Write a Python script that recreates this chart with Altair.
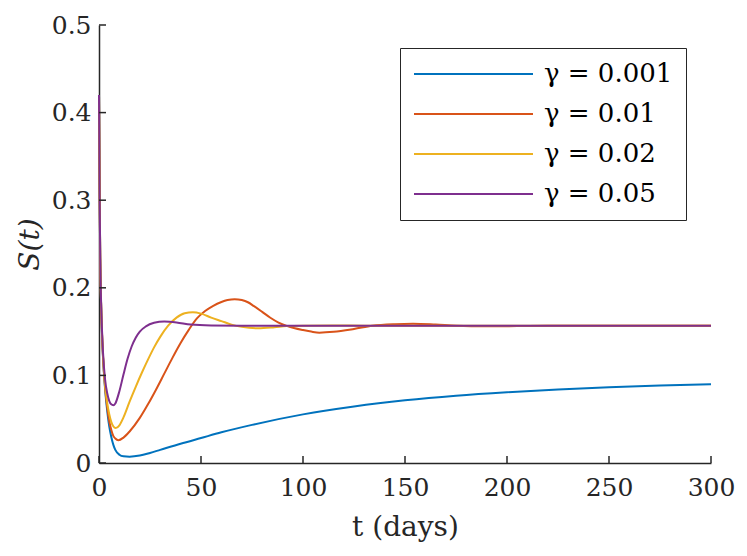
import altair as alt
import pandas as pd

# ---- data ----
labels = ["γ = 0.001", "γ = 0.01", "γ = 0.02", "γ = 0.05"]
colors = ["#0072BD", "#D95319", "#EDB120", "#7E2F8E"]

t_blue = [0, 0.3, 0.6, 1.0, 1.5, 2.0, 3, 4, 5, 6, 7, 8, 10, 12, 15, 20, 25, 30, 40, 50,
          60, 75, 100, 125, 150, 175, 200, 225, 250, 275, 300]
s_blue = [0.42, 0.31, 0.235, 0.183, 0.145, 0.119, 0.084, 0.060, 0.042, 0.030, 0.021, 0.015,
          0.0095, 0.0076, 0.0072, 0.0085, 0.0115, 0.015, 0.022, 0.0285, 0.035, 0.0435,
          0.0555, 0.0645, 0.0715, 0.0768, 0.0808, 0.0840, 0.0865, 0.0884, 0.0898]

t_orange = [0, 0.3, 0.6, 1.0, 1.5, 2.0, 3, 4, 5, 6, 7, 8, 9.5, 12, 15, 20, 24, 28, 32, 36,
            40, 44, 48, 52, 56, 60, 63, 66.5, 70, 73, 76, 80, 84, 88, 92, 96, 100, 104, 108,
            115, 125, 134, 145, 154, 165, 175, 190, 205, 220, 300]
s_orange = [0.42, 0.31, 0.235, 0.184, 0.146, 0.120, 0.086, 0.064, 0.048, 0.038, 0.031, 0.028,
            0.026, 0.029, 0.036, 0.0515, 0.067, 0.084, 0.102, 0.120, 0.137, 0.152, 0.165,
            0.1735, 0.1795, 0.1838, 0.1860, 0.1870, 0.1860, 0.1835, 0.1790, 0.1725, 0.1658,
            0.1603, 0.1565, 0.1538, 0.1518, 0.1500, 0.1488, 0.1497, 0.153, 0.1567, 0.1585,
            0.159, 0.158, 0.1567, 0.156, 0.1563, 0.1567, 0.1567]

t_yellow = [0, 0.3, 0.6, 1.0, 1.5, 2.0, 3, 4, 5, 6, 7, 8.2, 10, 12, 15, 18, 21, 24, 27, 30,
            34, 38, 42, 46, 50, 55, 60, 65, 70, 78, 86, 92, 100, 115, 130, 300]
s_yellow = [0.42, 0.31, 0.235, 0.184, 0.147, 0.121, 0.088, 0.069, 0.056, 0.047, 0.042, 0.040,
            0.043, 0.052, 0.070, 0.087, 0.103, 0.118, 0.132, 0.144, 0.157, 0.166, 0.171,
            0.172, 0.1705, 0.166, 0.162, 0.158, 0.1555, 0.1538, 0.1550, 0.1563, 0.1568,
            0.157, 0.1568, 0.1567]

t_purple = [0, 0.3, 0.6, 1.0, 1.5, 2.0, 3, 4, 5, 6, 7, 8, 10, 12, 14, 16, 18, 20, 23, 27,
            32, 38, 45, 55, 70, 300]
s_purple = [0.42, 0.31, 0.236, 0.186, 0.150, 0.125, 0.095, 0.080, 0.071, 0.067, 0.066, 0.068,
            0.082, 0.101, 0.119, 0.133, 0.143, 0.150, 0.156, 0.160, 0.1615, 0.1605, 0.158,
            0.1570, 0.1567, 0.1567]

x_ticks = [0, 50, 100, 150, 200, 250, 300]
y_ticks = [0, 0.1, 0.2, 0.3, 0.4, 0.5]

rows = []
for name, ts, ss in zip(labels, [t_blue, t_orange, t_yellow, t_purple],
                        [s_blue, s_orange, s_yellow, s_purple]):
    for t, s in zip(ts, ss):
        rows.append({"t": t, "S": s, "series": name})
df = pd.DataFrame(rows)
xt_df = pd.DataFrame({"t": x_ticks})
yt_df = pd.DataFrame({"S": y_ticks})

FONT = "DejaVu Serif"
INK = "#262626"
W, H = 612, 438
TICK = 7

xscale = alt.Scale(domain=[0, 300], nice=False, zero=False)
yscale = alt.Scale(domain=[0, 0.5], nice=False)

lines = alt.Chart(df).mark_line(strokeWidth=2, interpolate="monotone").encode(
    x=alt.X("t:Q", scale=xscale,
            axis=alt.Axis(values=x_ticks, title="t (days)", ticks=False, tickSize=0,
                          labelFlush=False,
                          domainColor=INK, domainWidth=1.5, grid=False,
                          labelFont=FONT, labelFontSize=25, labelColor=INK, labelPadding=12,
                          titleFont=FONT, titleFontSize=28, titleFontWeight="normal",
                          titleColor=INK, titleY=72, titleBaseline="alphabetic")),
    y=alt.Y("S:Q", scale=yscale,
            axis=alt.Axis(values=y_ticks, format="~g", title="S(t)", ticks=False, tickSize=0,
                          labelFlush=False,
                          domainColor=INK, domainWidth=1.5, grid=False,
                          labelFont=FONT, labelFontSize=25, labelColor=INK, labelPadding=8,
                          titleFont=FONT, titleFontSize=28, titleFontWeight="normal",
                          titleFontStyle="italic", titleColor=INK, titleAngle=-90,
                          titleX=-61, titleY=H / 2, titleAlign="center",
                          titleBaseline="alphabetic")),
    color=alt.Color("series:N", scale=alt.Scale(domain=labels, range=colors),
                    legend=alt.Legend(title=None, orient="none", legendX=301, legendY=23,
                                      symbolType="stroke", symbolSize=119 * 119,
                                      symbolStrokeWidth=2, labelFont=FONT, labelFontSize=26,
                                      labelColor="#000000", labelOffset=10, padding=13,
                                      strokeColor=INK, fillColor="white", rowPadding=14,
                                      clipHeight=26)),
)

# inward tick marks (MATLAB style)
x_tick_marks = alt.Chart(xt_df).mark_rule(color=INK, strokeWidth=1.5).encode(
    x=alt.X("t:Q", scale=xscale),
    y=alt.value(H),
    y2=alt.value(H - TICK),
)
y_tick_marks = alt.Chart(yt_df).mark_rule(color=INK, strokeWidth=1.5).encode(
    y=alt.Y("S:Q", scale=yscale),
    x=alt.value(0),
    x2=alt.value(TICK),
)

chart = alt.layer(lines, x_tick_marks, y_tick_marks).properties(
    width=W, height=H,
    autosize=alt.AutoSizeParams(type="none"),
    padding={"left": 91, "top": 17, "right": 28, "bottom": 80},
).configure_view(stroke=None)

chart.save("out.html", embed_options={"renderer": "svg", "actions": False})
